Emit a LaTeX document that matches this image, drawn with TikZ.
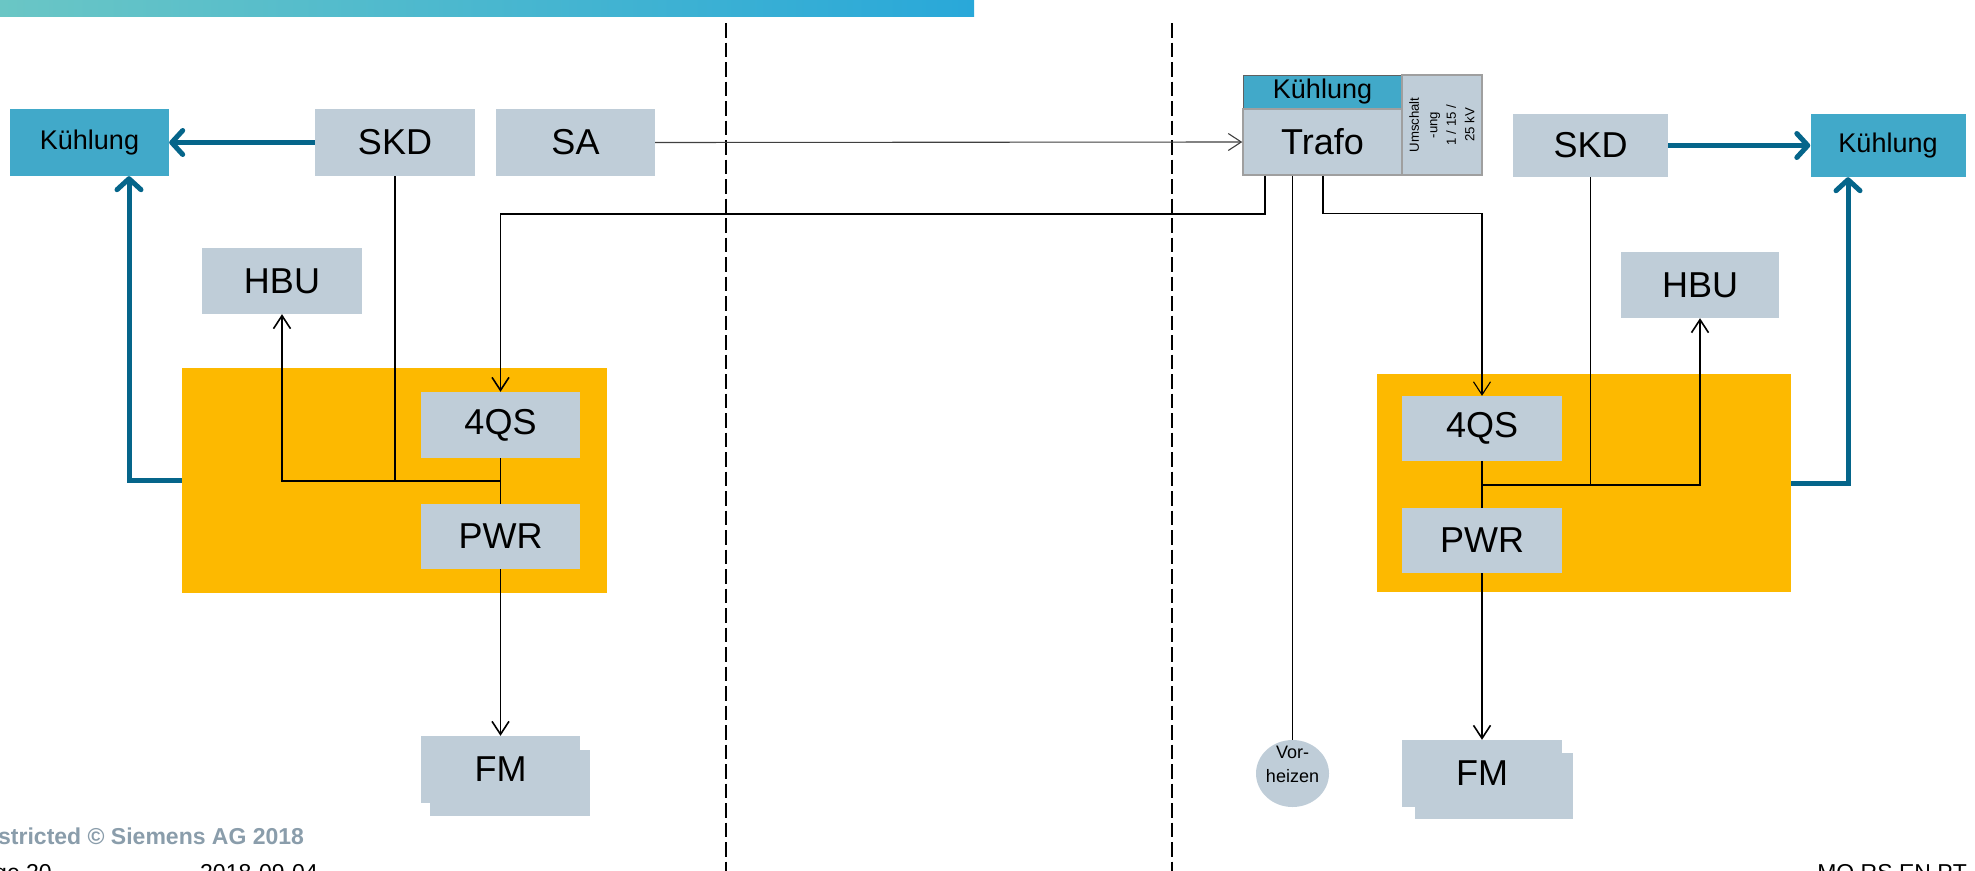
\documentclass[tikz,border=0pt]{standalone}
\usepackage{fontspec}
\setmainfont{Liberation Sans}
\usetikzlibrary{arrows.meta,shapes.geometric,calc}
\definecolor{boxgray}{HTML}{BFCDD8}
\definecolor{coolblue}{HTML}{41A9C9}
\definecolor{orng}{HTML}{FDB900}
\definecolor{petrol}{HTML}{05658A}
\definecolor{footgray}{HTML}{8A9DAB}
\definecolor{gradA}{HTML}{6AC6C5}
\definecolor{gradB}{HTML}{26A9A8}
\definecolor{gradC}{HTML}{29A8D9}
\tikzset{
  gbox/.style={rectangle, fill=boxgray, inner sep=0pt, font=\fontsize{36}{43}\selectfont},
  kbox/.style={rectangle, fill=coolblue, inner sep=0pt, font=\fontsize{27}{32}\selectfont},
  obox/.style={rectangle, fill=orng, inner sep=0pt},
  thinarrow/.style={line width=1.6pt, -{Straight Barb[length=13pt,width=17pt]}},
  thinline/.style={line width=1.6pt},
  bluearrow/.style={line width=5pt, color=petrol, -{Straight Barb[length=11pt,width=24pt,round]}},
  sepline/.style={line width=1.7pt, dash pattern=on 14.5pt off 5pt},
  foot/.style={inner sep=0pt, font=\fontsize{23}{27}\selectfont}
}
\begin{document}
\begin{tikzpicture}[x=1pt,y=-1pt]
\useasboundingbox (0,0) rectangle (1975,870);
\clip (0,0) rectangle (1975,870);
\fill[white] (0,0) rectangle (1975,870);
% top gradient bar
\shade[left color=gradA, middle color=gradB, right color=gradC] (0,0) rectangle (974,16);
% separators
\draw[sepline] (726,23) -- (726,872);
\draw[sepline] (1172,23) -- (1172,872);

% ---------- left side ----------
\node[obox, minimum width=425pt, minimum height=225pt] (orangeL) at (394.5,480.5) {};
\node[kbox, minimum width=159pt, minimum height=67pt] (kuehlL) at (89.5,142.5) {Kühlung};
\node[gbox, minimum width=160pt, minimum height=67pt] (skdL) at (395,142.5) {SKD};
\node[gbox, minimum width=159pt, minimum height=67pt] (sa) at (575.5,142.5) {SA};
\node[gbox, minimum width=160pt, minimum height=66pt] (hbuL) at (282,281) {HBU};
\node[gbox, minimum width=159pt, minimum height=66pt] (qsL) at (500.5,425) {4QS};
\node[gbox, minimum width=159pt, minimum height=65pt] (pwrL) at (500.5,536.5) {PWR};
\node[gbox, minimum width=160pt, minimum height=66pt] (fmLb) at (510,783) {};
\node[gbox, minimum width=159pt, minimum height=67pt] (fmL) at (500.5,769.5) {FM};
\coordinate (jL) at (500.5,481);

% ---------- right side ----------
\node[obox, minimum width=414pt, minimum height=218pt] (orangeR) at (1584,483) {};
\node[kbox, draw=gray!75!black, line width=1pt, minimum width=159pt, minimum height=34pt] (trafoK) at (1322.5,92) {Kühlung};
\node[gbox, draw=gray!75, line width=1.5pt, minimum width=159pt, minimum height=66pt] (trafo) at (1322.5,142) {Trafo};
\node[rectangle, fill=boxgray, draw=gray!75, line width=1.5pt, minimum width=80pt, minimum height=100pt, inner sep=0pt] (umsch) at (1442,125) {};
\node[rotate=90, align=center, inner sep=0pt, font=\fontsize{13.2}{18.5}\selectfont] (umschT) at (umsch.center) {Umschalt\\-ung\\1 / 15 /\\25 kV};
\node[gbox, minimum width=155pt, minimum height=63pt] (skdR) at (1590.5,145.5) {SKD};
\node[kbox, minimum width=155pt, minimum height=63pt] (kuehlR) at (1888,145.5) {Kühlung};
\node[gbox, minimum width=158pt, minimum height=66pt] (hbuR) at (1700,285) {HBU};
\node[gbox, minimum width=160pt, minimum height=65pt] (qsR) at (1482,428.5) {4QS};
\node[gbox, minimum width=160pt, minimum height=65pt] (pwrR) at (1482,540.5) {PWR};
\node[gbox, minimum width=158pt, minimum height=66pt] (fmRb) at (1494,786) {};
\node[gbox, minimum width=160pt, minimum height=67pt] (fmR) at (1482,773.5) {FM};
\node[ellipse, fill=boxgray, inner sep=0pt, minimum width=73pt, minimum height=67pt] (vor) at (1292.5,773.5) {};
\node[align=center, inner sep=0pt, font=\fontsize{18}{24}\selectfont] (vorT) at (1292.5,764) {Vor-\\heizen};
\coordinate (jR) at (1482,485);

% ---------- connectors left ----------
\draw[bluearrow] (skdL.west) -- (kuehlL.east);
\draw[bluearrow] (orangeL.west) -| ([xshift=39.5pt]kuehlL.south);
\draw[thinline] (skdL.south) -- (skdL.south |- jL);
\draw[thinarrow] (jL) -| (hbuL.south);
\draw[thinline] (qsL.south) -- (pwrL.north);
\draw[thinarrow] (pwrL.south) -- (fmL.north);

% ---------- connectors middle ----------
\draw[line width=1.1pt, color=black!75, -{Straight Barb[length=13pt,width=17pt]}] (sa.east) -- (trafo.west);
\draw[thinarrow] ([xshift=-57.5pt]trafo.south) -- ++(0,38) -| (qsL.north);
\draw[line width=1.8pt] ([xshift=-30pt]trafo.south) -- (vor.north);
\draw[line width=1.1pt, -{Straight Barb[length=13pt,width=17pt]}] ([xshift=0.5pt]trafo.south) -- ++(0,38) -| (qsR.north);

% ---------- connectors right ----------
\draw[bluearrow] (skdR.east) -- (kuehlR.west);
\draw[bluearrow] (orangeR.east) -| ([xshift=-40pt]kuehlR.south);
\draw[thinline] (skdR.south) -- (skdR.south |- jR);
\draw[thinarrow] (jR) -| (hbuR.south);
\draw[thinline] (qsR.south) -- (pwrR.north);
\draw[thinarrow] (pwrR.south) -- (fmR.north);

% ---------- footer ----------
\node[foot, anchor=base west, text=footgray, font=\fontsize{23}{27}\selectfont\bfseries] (copy) at (-2,844) {stricted © Siemens AG 2018};
\node[foot, anchor=base east] (page) at (52,880) {ge 20};
\node[foot, anchor=base west] (date) at (200,880) {2018-09-04};
\node[foot, anchor=base east] (dept) at (1967,880) {MO RS EN PT};
\end{tikzpicture}
\end{document}
